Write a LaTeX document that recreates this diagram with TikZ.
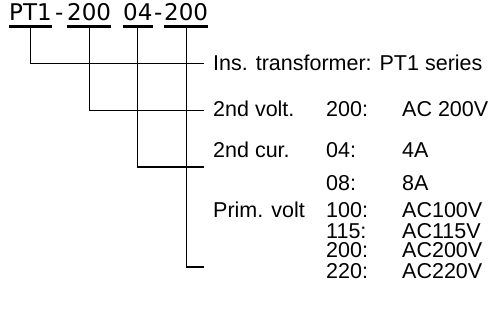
\documentclass[tikz,border=0pt]{standalone}
\usepackage{fontspec}
\setmainfont{Liberation Sans}
\newfontfamily\codefont{DejaVu Sans}
\usetikzlibrary{positioning}
\tikzset{
  code/.style={anchor=base west, inner sep=0pt, font=\codefont\fontsize{23}{27}\selectfont},
  txt/.style={anchor=base west, inner sep=0pt, font=\fontsize{21.5}{26}\selectfont},
  bar/.style={line width=3pt},
  link/.style={line width=1.3pt},
}

\begin{document}
\begin{tikzpicture}[x=1pt,y=-1pt]
  \useasboundingbox (0,0) rectangle (499,321);
  % model code
  \node[code] (pt) at (9,21) {PT1};
  \node[code] (d1) at (55,21) {-};
  \node[code] (vs) at (67,21) {200};
  \node[code] (cur) at (123,21) {04};
  \node[code] (d2) at (154,21) {-};
  \node[code] (pv) at (164,21) {200};
  \foreach \n in {pt,vs,cur,pv}
    \draw[bar] ([yshift=-5.5pt]\n.base west) -- ([yshift=-5.5pt]\n.base east);
  % labels
  \node[txt] (ins) at (213,71) {Ins. transformer: PT1 series};
  \node[txt] (volt) at (213,117) {2nd volt.};
  \node[txt] (vcode) at (326,117) {200:};
  \node[txt] (vval) at (402,117) {AC 200V};
  \node[txt] (curr) at (213,158) {2nd cur.};
  \node[txt] (ccode1) at (326,158) {04:};
  \node[txt] (cval1) at (402,158) {4A};
  \node[txt] (ccode2) at (326,190) {08:};
  \node[txt] (cval2) at (402,190) {8A};
  \node[txt] (prim) at (213,218) {Prim. volt};
  \foreach \c/\v/\y [count=\i] in {100/AC100V/218,115/AC115V/238,200/AC200V/258,220/AC220V/278}{
    \node[txt] (pcode\i) at (326,\y) {\c:};
    \node[txt] (pval\i) at (402,\y) {\v};
  }
  % connectors
  \coordinate (e1) at (204,63.5);
  \coordinate (e2) at (204,110.5);
  \coordinate (e3) at (204,167);
  \coordinate (e4) at (204,267);
  \draw[link] ([yshift=-7pt]pt.base) |- (e1);
  \draw[link] ([yshift=-7pt]vs.base) |- (e2);
  \draw[link] ([yshift=-7pt]cur.base) |- (e3);
  \draw[link] ([yshift=-7pt]pv.base) |- (e4);
\end{tikzpicture}
\end{document}
